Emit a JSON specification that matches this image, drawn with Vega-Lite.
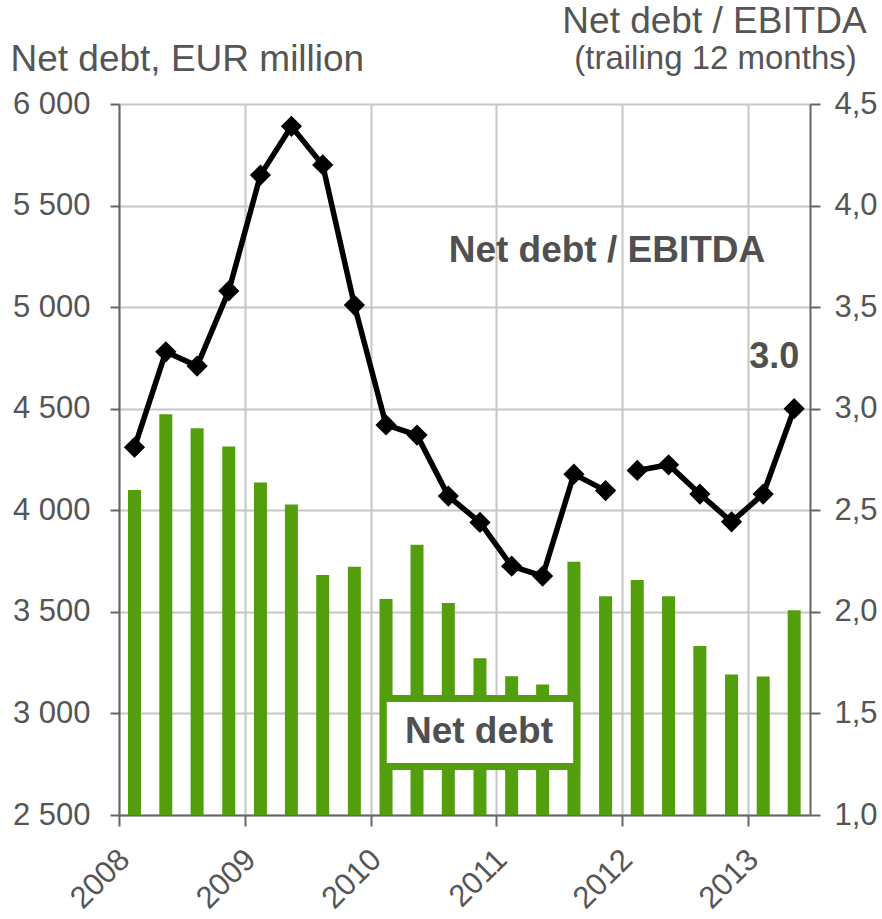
{
  "$schema": "https://vega.github.io/schema/vega-lite/v6.json",
  "width": 691,
  "height": 711,
  "autosize": {"type": "none"},
  "padding": {"left": 119, "top": 104, "right": 72, "bottom": 104},
  "background": "white",
  "config": {
    "view": {"stroke": null},
    "font": "Liberation Sans",
    "axis": {
      "labelFont": "Liberation Sans",
      "titleFont": "Liberation Sans",
      "labelColor": "#555555",
      "titleColor": "#555555",
      "domainColor": "#666666",
      "tickColor": "#666666",
      "domainWidth": 2,
      "tickWidth": 2,
      "gridColor": "#c6c6c6",
      "gridWidth": 2,
      "labelFontSize": 31,
      "titleFontWeight": "normal"
    }
  },
  "data": {
    "values": [
      {"q": "2008-02-15", "debt": 4100, "ratio": 2.81, "period": "A"},
      {"q": "2008-05-16", "debt": 4473, "ratio": 3.28, "period": "A"},
      {"q": "2008-08-15", "debt": 4404, "ratio": 3.21, "period": "A"},
      {"q": "2008-11-15", "debt": 4314, "ratio": 3.58, "period": "A"},
      {"q": "2009-02-15", "debt": 4137, "ratio": 4.15, "period": "A"},
      {"q": "2009-05-16", "debt": 4028, "ratio": 4.39, "period": "A"},
      {"q": "2009-08-15", "debt": 3682, "ratio": 4.2, "period": "A"},
      {"q": "2009-11-15", "debt": 3722, "ratio": 3.51, "period": "A"},
      {"q": "2010-02-15", "debt": 3563, "ratio": 2.92, "period": "A"},
      {"q": "2010-05-16", "debt": 3830, "ratio": 2.87, "period": "A"},
      {"q": "2010-08-15", "debt": 3543, "ratio": 2.57, "period": "A"},
      {"q": "2010-11-15", "debt": 3272, "ratio": 2.44, "period": "A"},
      {"q": "2011-02-15", "debt": 3183, "ratio": 2.225, "period": "A"},
      {"q": "2011-05-16", "debt": 3143, "ratio": 2.176, "period": "A"},
      {"q": "2011-08-15", "debt": 3747, "ratio": 2.678, "period": "A"},
      {"q": "2011-11-15", "debt": 3577, "ratio": 2.597, "period": "A"},
      {"q": "2012-02-15", "debt": 3657, "ratio": 2.696, "period": "B"},
      {"q": "2012-05-16", "debt": 3577, "ratio": 2.724, "period": "B"},
      {"q": "2012-08-15", "debt": 3332, "ratio": 2.58, "period": "B"},
      {"q": "2012-11-15", "debt": 3192, "ratio": 2.443, "period": "B"},
      {"q": "2013-02-15", "debt": 3182, "ratio": 2.58, "period": "B"},
      {"q": "2013-05-16", "debt": 3508, "ratio": 3.0, "period": "B"}
    ]
  },
  "layer": [
    {
      "layer": [
        {
          "mark": {"type": "bar", "width": 13, "color": "#529e0d"},
          "encoding": {
            "x": {
              "field": "q",
              "type": "temporal",
              "scale": {"domain": [{"year": 2008, "month": 1, "date": 1}, {"year": 2013, "month": 7, "date": 1}], "padding": 0, "nice": false},
              "axis": {
                "orient": "bottom",
                "title": null,
                "values": [{"year": 2008}, {"year": 2009}, {"year": 2010}, {"year": 2011}, {"year": 2012}, {"year": 2013}],
                "format": "%Y",
                "labelAngle": -45,
                "labelAlign": "right",
                "labelBaseline": "top",
                "labelOffset": -5,
                "tickSize": 11,
                "labelPadding": 18,
                "grid": true
              }
            },
            "y": {
              "field": "debt",
              "type": "quantitative",
              "scale": {"domain": [2500, 6000], "nice": false, "zero": false},
              "axis": {
                "orient": "left",
                "values": [2500, 3000, 3500, 4000, 4500, 5000, 5500, 6000],
                "labelExpr": "replace(format(datum.value, ','), ',', ' ')",
                "tickSize": 9,
                "labelPadding": 20,
                "grid": true,
                "title": "Net debt, EUR million",
                "titleAngle": 0,
                "titleAlign": "left",
                "titleBaseline": "alphabetic",
                "titleX": -109,
                "titleY": -34,
                "titleFontSize": 37
              }
            },
            "y2": {"datum": 2500}
          }
        },
        {
          "data": {"values": [{}]},
          "mark": {"type": "rect", "fill": "white", "stroke": "#529e0d", "strokeWidth": 7},
          "encoding": {
            "x": {"datum": {"year": 2010, "month": 2, "date": 7}, "type": "temporal"},
            "x2": {"datum": {"year": 2011, "month": 8, "date": 23}},
            "y": {"datum": 2739, "type": "quantitative"},
            "y2": {"datum": 3073}
          }
        },
        {
          "data": {"values": [{}]},
          "mark": {"type": "text", "fontSize": 37, "fontWeight": "bold", "color": "#505050", "align": "center", "baseline": "alphabetic"},
          "encoding": {
            "x": {"datum": {"year": 2010, "month": 11, "date": 12}, "type": "temporal"},
            "y": {"datum": 2856, "type": "quantitative"},
            "text": {"value": "Net debt"}
          }
        }
      ]
    },
    {
      "layer": [
        {
          "mark": {
            "type": "line",
            "color": "black",
            "strokeWidth": 5.5,
            "point": {"shape": "diamond", "size": 450, "filled": true, "color": "black", "opacity": 1}
          },
          "encoding": {
            "x": {
              "field": "q",
              "type": "temporal",
              "axis": {
                "orient": "top",
                "domain": false,
                "ticks": false,
                "labels": false,
                "grid": false,
                "title": "(trailing 12 months)",
                "titleFontSize": 33,
                "titleAlign": "center",
                "titleBaseline": "alphabetic",
                "titleX": 596,
                "titleY": -36
              }
            },
            "y": {
              "field": "ratio",
              "type": "quantitative",
              "scale": {"domain": [1.0, 4.5], "nice": false, "zero": false},
              "axis": {
                "orient": "right",
                "values": [1.0, 1.5, 2.0, 2.5, 3.0, 3.5, 4.0, 4.5],
                "labelExpr": "replace(format(datum.value, '.1f'), '.', ',')",
                "tickSize": 10,
                "labelPadding": 14,
                "grid": false,
                "title": "Net debt / EBITDA",
                "titleAngle": 0,
                "titleAlign": "center",
                "titleBaseline": "alphabetic",
                "titleX": -96,
                "titleY": -72,
                "titleFontSize": 37
              }
            },
            "detail": {"field": "period", "type": "nominal"}
          }
        },
        {
          "data": {"values": [{}]},
          "mark": {"type": "text", "fontSize": 37, "fontWeight": "bold", "color": "#505050", "align": "center", "baseline": "alphabetic"},
          "encoding": {
            "x": {"datum": {"year": 2011, "month": 11, "date": 19}, "type": "temporal"},
            "y": {"datum": 3.72, "type": "quantitative"},
            "text": {"value": "Net debt / EBITDA"}
          }
        },
        {
          "data": {"values": [{}]},
          "mark": {"type": "text", "fontSize": 36, "fontWeight": "bold", "color": "#505050", "align": "center", "baseline": "alphabetic"},
          "encoding": {
            "x": {"datum": {"year": 2013, "month": 3, "date": 19}, "type": "temporal"},
            "y": {"datum": 3.2, "type": "quantitative"},
            "text": {"value": "3.0"}
          }
        }
      ]
    }
  ],
  "resolve": {"scale": {"y": "independent"}, "axis": {"x": "independent"}}
}
